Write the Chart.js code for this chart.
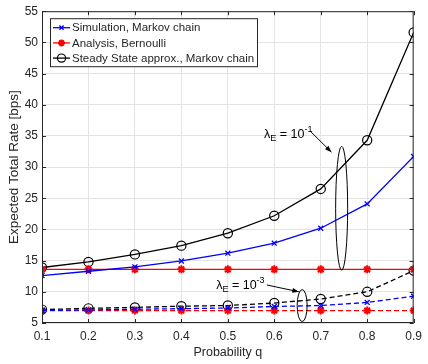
<!DOCTYPE html>
<html>
<head>
<meta charset="utf-8">
<script src="https://cdn.jsdelivr.net/npm/chart.js@4"></script>
<style>
  html, body { margin: 0; padding: 0; background: #fff; }
  #wrap { width: 428px; height: 364px; }
</style>
</head>
<body>
<div id="wrap"><canvas id="rateChart" width="428" height="364"></canvas></div>
<script>
// probability q on the x axis
const qValues = [0.1, 0.2, 0.3, 0.4, 0.5, 0.6, 0.7, 0.8, 0.9];

// lambda_E = 10^-1
const simHigh    = [12.6, 13.3, 14.0, 14.95, 16.2, 17.8, 20.2, 24.1, 31.7];
const bernHigh   = [13.6, 13.6, 13.6, 13.6, 13.6, 13.6, 13.6, 13.6, 13.6];
const steadyHigh = [13.9, 14.8, 16.0, 17.4, 19.4, 22.2, 26.5, 34.3, 51.6];

// lambda_E = 10^-3
const simLow    = [7.0, 7.1, 7.2, 7.3, 7.4, 7.65, 7.8, 8.3, 9.3];
const bernLow   = [7.0, 7.0, 7.0, 7.0, 7.0, 7.0, 7.0, 7.0, 7.0];
const steadyLow = [7.15, 7.35, 7.5, 7.7, 7.8, 8.2, 8.85, 10.0, 13.4];

const legendLabels = ['Simulation, Markov chain', 'Analysis, Bernoulli', 'Steady State approx., Markov chain'];
const xTicks = [0.1, 0.2, 0.3, 0.4, 0.5, 0.6, 0.7, 0.8, 0.9];
const yTicks = [5, 10, 15, 20, 25, 30, 35, 40, 45, 50, 55];

const axisColor = '#262626';
const fontFam = '"Liberation Sans", Arial, Helvetica, sans-serif';

function pts(ys) {
    return qValues.map((q, i) => ({ x: q, y: ys[i] }));
}

const styles = {
    sim:    { color: '#0000ff', pointStyle: 'crossRot', radius: 3.5, pw: 1.3, fill: '#0000ff' },
    bern:   { color: '#ff0000', pointStyle: 'star',     radius: 4,   pw: 2,   fill: '#ff0000' },
    steady: { color: '#000000', pointStyle: 'circle',   radius: 4.6, pw: 1.2, fill: 'rgba(0,0,0,0)' }
};

function makeSet(label, ys, st, dashed) {
    return {
        label: label,
        data: pts(ys),
        borderColor: st.color,
        backgroundColor: st.fill,
        borderWidth: 1.3,
        borderDash: dashed ? [5, 3] : [],
        pointStyle: st.pointStyle,
        pointRadius: st.radius,
        pointBorderWidth: st.pw,
        pointBorderColor: st.color,
        pointBackgroundColor: st.fill,
        tension: 0
    };
}

const datasets = [
    makeSet(legendLabels[0], simHigh, styles.sim, false),
    makeSet(legendLabels[1], bernHigh, styles.bern, false),
    makeSet(legendLabels[2], steadyHigh, styles.steady, false),
    makeSet(legendLabels[0] + ' low', simLow, styles.sim, true),
    makeSet(legendLabels[1] + ' low', bernLow, styles.bern, true),
    makeSet(legendLabels[2] + ' low', steadyLow, styles.steady, true)
];

// axes box with inward ticks, like matlab
const framePlugin = {
    id: 'frame',
    afterDatasetsDraw(chart) {
        const ctx = chart.ctx;
        const a = chart.chartArea;
        const xs = chart.scales.x, ys = chart.scales.y;
        ctx.save();
        ctx.strokeStyle = axisColor;
        ctx.lineWidth = 1;
        ctx.strokeRect(a.left + 0.5, a.top + 0.5, a.right - a.left - 1, a.bottom - a.top - 1);
        ctx.beginPath();
        xTicks.forEach(t => {
            const px = Math.round(xs.getPixelForValue(t)) + 0.5;
            ctx.moveTo(px, a.bottom); ctx.lineTo(px, a.bottom - 4);
            ctx.moveTo(px, a.top); ctx.lineTo(px, a.top + 4);
        });
        yTicks.forEach(t => {
            const py = Math.round(ys.getPixelForValue(t)) + 0.5;
            ctx.moveTo(a.left, py); ctx.lineTo(a.left + 4, py);
            ctx.moveTo(a.right, py); ctx.lineTo(a.right - 4, py);
        });
        ctx.stroke();
        ctx.restore();
    }
};

// lambda labels, arrows and ellipses
function drawLambda(ctx, x, y, exp) {
    ctx.font = '12.5px ' + fontFam;
    ctx.fillStyle = '#000';
    ctx.textBaseline = 'alphabetic';
    ctx.textAlign = 'left';
    ctx.fillText('\u03bb', x, y);
    let cx = x + ctx.measureText('\u03bb').width;
    ctx.font = '9px ' + fontFam;
    ctx.fillText('E', cx, y + 3);
    cx += ctx.measureText('E').width;
    ctx.font = '12.5px ' + fontFam;
    ctx.fillText(' = 10', cx, y);
    cx += ctx.measureText(' = 10').width;
    ctx.font = '9px ' + fontFam;
    ctx.fillText(exp, cx, y - 6);
}

function arrow(ctx, x1, y1, x2, y2) {
    ctx.beginPath();
    ctx.moveTo(x1, y1); ctx.lineTo(x2, y2);
    ctx.stroke();
    const ang = Math.atan2(y2 - y1, x2 - x1);
    const len = 7, wid = 0.35;
    ctx.beginPath();
    ctx.moveTo(x2, y2);
    ctx.lineTo(x2 - len * Math.cos(ang - wid), y2 - len * Math.sin(ang - wid));
    ctx.lineTo(x2 - len * Math.cos(ang + wid), y2 - len * Math.sin(ang + wid));
    ctx.closePath();
    ctx.fill();
}

const notePlugin = {
    id: 'notes',
    afterDatasetsDraw(chart) {
        const ctx = chart.ctx;
        const xs = chart.scales.x, ys = chart.scales.y;
        ctx.save();
        ctx.strokeStyle = '#000';
        ctx.fillStyle = '#000';
        ctx.lineWidth = 1;

        // 10^-1 group
        ctx.beginPath();
        ctx.ellipse(xs.getPixelForValue(0.745), ys.getPixelForValue(23.4), 6, 62, 0, 0, Math.PI * 2);
        ctx.stroke();
        arrow(ctx, xs.getPixelForValue(0.677), ys.getPixelForValue(35.8),
                   xs.getPixelForValue(0.723), ys.getPixelForValue(32.4));
        drawLambda(ctx, xs.getPixelForValue(0.578), ys.getPixelForValue(34.6), '-1');

        // 10^-3 group
        ctx.beginPath();
        ctx.ellipse(xs.getPixelForValue(0.66), ys.getPixelForValue(7.8), 5, 16, 0, 0, Math.PI * 2);
        ctx.stroke();
        arrow(ctx, xs.getPixelForValue(0.584), ys.getPixelForValue(11.1),
                   xs.getPixelForValue(0.653), ys.getPixelForValue(10.0));
        drawLambda(ctx, xs.getPixelForValue(0.475), ys.getPixelForValue(10.4), '-3');
        ctx.restore();
    }
};

// legend box in top-left corner of the axes
const legendPlugin = {
    id: 'boxLegend',
    afterDraw(chart) {
        const ctx = chart.ctx;
        const a = chart.chartArea;
        const bx = a.left + 8, by = a.top + 7, bw = 207, bh = 48;
        ctx.save();
        ctx.fillStyle = '#fff';
        ctx.fillRect(bx, by, bw, bh);
        ctx.strokeStyle = axisColor;
        ctx.lineWidth = 1;
        ctx.strokeRect(bx + 0.5, by + 0.5, bw, bh);
        const keys = ['sim', 'bern', 'steady'];
        keys.forEach((k, i) => {
            const st = styles[k];
            const y = by + 9.5 + i * 15.2;
            ctx.strokeStyle = st.color;
            ctx.lineWidth = 1.3;
            ctx.beginPath();
            ctx.moveTo(bx + 3, y); ctx.lineTo(bx + 20, y);
            ctx.stroke();
            ctx.lineWidth = st.pw;
            ctx.fillStyle = st.fill;
            ctx.strokeStyle = st.color;
            Chart.helpers.drawPoint(ctx, {
                pointStyle: st.pointStyle, radius: st.radius - 0.5, rotation: 0, borderWidth: st.pw
            }, bx + 11.5, y);
            ctx.fillStyle = axisColor;
            ctx.font = '11.5px ' + fontFam;
            ctx.textBaseline = 'middle';
            ctx.fillText(legendLabels[i], bx + 22, y + 0.5);
        });
        ctx.restore();
    }
};

const ctx = document.getElementById('rateChart').getContext('2d');
new Chart(ctx, {
    type: 'line',
    data: { datasets: datasets },
    options: {
        responsive: false,
        animation: false,
        devicePixelRatio: 1,
        layout: { padding: { top: 6, right: 9, left: 0, bottom: 0 } },
        plugins: {
            legend: { display: false },
            tooltip: { enabled: false }
        },
        scales: {
            x: {
                type: 'linear',
                min: 0.1,
                max: 0.9,
                afterBuildTicks: s => { s.ticks = xTicks.map(v => ({ value: v })); },
                afterFit: s => { s.height = 41; },
                ticks: {
                    callback: v => v.toFixed(1),
                    color: axisColor,
                    font: { family: fontFam, size: 12 },
                    padding: 6,
                    maxRotation: 0
                },
                grid: { color: '#e3e3e3', drawTicks: false },
                border: { display: false },
                title: {
                    display: true,
                    text: 'Probability q',
                    color: axisColor,
                    font: { family: fontFam, size: 12.5 },
                    padding: { top: 3, bottom: 4 }
                }
            },
            y: {
                type: 'linear',
                min: 5,
                max: 55,
                afterBuildTicks: s => { s.ticks = yTicks.map(v => ({ value: v })); },
                afterFit: s => { s.width = 42; },
                ticks: {
                    color: axisColor,
                    font: { family: fontFam, size: 12 },
                    padding: 4
                },
                grid: { color: '#e3e3e3', drawTicks: false },
                border: { display: false },
                title: {
                    display: true,
                    text: 'Expected Total Rate [bps]',
                    color: axisColor,
                    font: { family: fontFam, size: 13.5 },
                    padding: { top: 6, bottom: 2 }
                }
            }
        }
    },
    plugins: [framePlugin, notePlugin, legendPlugin]
});
</script>
</body>
</html>
